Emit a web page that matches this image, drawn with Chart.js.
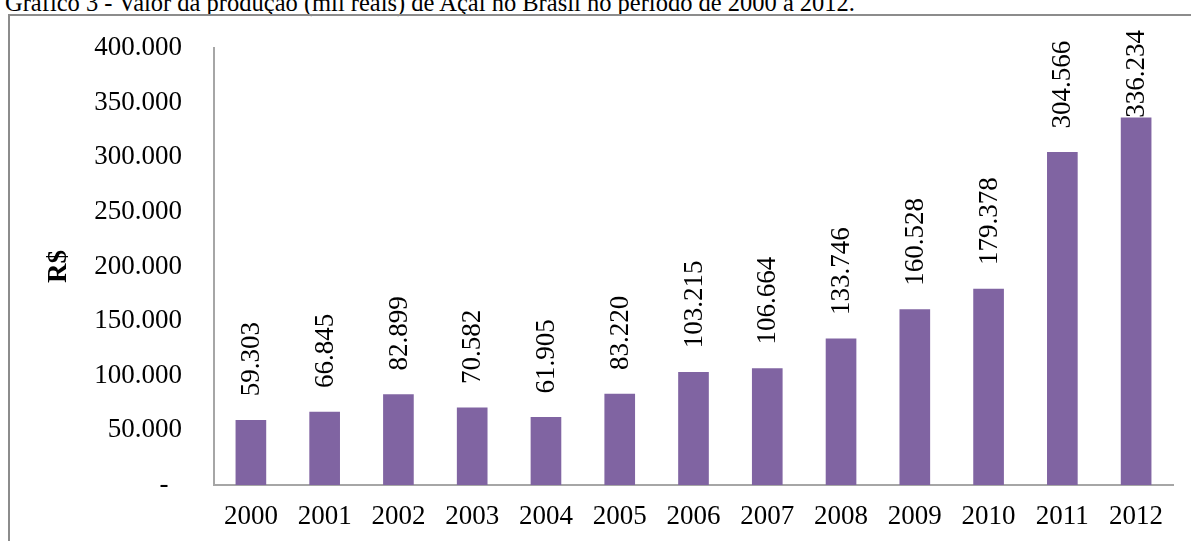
<!DOCTYPE html>
<html>
<head>
<meta charset="utf-8">
<script src="https://cdn.jsdelivr.net/npm/chart.js@4.4.1/dist/chart.umd.min.js"></script>
<style>
  body { margin: 0; background: #fff; overflow: hidden; }
  #titulo {
    position: absolute; left: 5px; top: -9px;
    font: 24.5px/24.5px "Liberation Serif", "Times New Roman", serif;
    color: #000; white-space: nowrap;
  }
  #moldura {
    position: absolute; left: 8px; top: 14px; width: 1300px; height: 600px;
    border-left: 2px solid #8c8c8c; border-top: 2px solid #8c8c8c;
  }
  #box { position: absolute; left: 0; top: 0; width: 1191px; height: 541px; }
</style>
</head>
<body>
<div id="titulo">Gráfico 3 - Valor da produção (mil reais) de Açaí no Brasil no período de 2000 a 2012.</div>
<div id="moldura"></div>
<div id="box"><canvas id="grafico"></canvas></div>
<script>
const anos = ['2000', '2001', '2002', '2003', '2004', '2005', '2006', '2007', '2008', '2009', '2010', '2011', '2012'];
const valores = [59303, 66845, 82899, 70582, 61905, 83220, 103215, 106664, 133746, 160528, 179378, 304566, 336234];
const tituloEixoY = 'R$';

const fonte = '"Liberation Serif", "Times New Roman", serif';

formatarMilhar = (v) => {
    if (v === 0) return '-\u2002';
    return String(v).replace(/\B(?=(\d{3})+(?!\d))/g, '.');
}

// rotulos verticais acima das barras
const rotulosBarras = {
    id: 'rotulosBarras',
    afterDatasetsDraw(chart) {
        const ctx = chart.ctx;
        const meta = chart.getDatasetMeta(0);
        ctx.save();
        ctx.font = '27px ' + fonte;
        ctx.fillStyle = '#000';
        ctx.textAlign = 'left';
        ctx.textBaseline = 'middle';
        meta.data.forEach((bar, i) => {
            const txt = formatarMilhar(valores[i]);
            const w = ctx.measureText(txt).width;
            let base = bar.y - 24;
            if (base - w < 23) base = Math.max(bar.y, 23 + w);
            ctx.save();
            ctx.translate(bar.x + 1, base);
            ctx.rotate(-Math.PI / 2);
            ctx.fillText(txt, 0, 0);
            ctx.restore();
        });
        ctx.restore();
    }
};

new Chart(document.getElementById('grafico').getContext('2d'), {
    type: 'bar',
    data: {
        labels: anos,
        datasets: [{
            label: 'Valor da produção',
            data: valores,
            backgroundColor: '#8064A2',
            barThickness: 30
        }]
    },
    options: {
        responsive: true,
        maintainAspectRatio: false,
        animation: false,
        layout: {
            padding: { top: 45, right: 18, bottom: 0, left: 0 }
        },
        plugins: {
            legend: { display: false },
            tooltip: { enabled: false }
        },
        scales: {
            x: {
                grid: { display: false, drawTicks: false },
                border: { display: true, color: '#a6a6a6', width: 2 },
                ticks: {
                    color: '#000',
                    padding: 16,
                    maxRotation: 0,
                    font: { family: fonte, size: 27 }
                },
                afterFit: (scale) => { scale.height = 56; }
            },
            y: {
                min: 0,
                max: 400000,
                grid: { display: false, drawTicks: false },
                border: { display: true, color: '#a6a6a6', width: 2 },
                ticks: {
                    stepSize: 50000,
                    color: '#000',
                    padding: 32,
                    font: { family: fonte, size: 27 },
                    callback: (v) => formatarMilhar(v)
                },
                title: {
                    display: true,
                    text: tituloEixoY,
                    color: '#000',
                    padding: { top: 43, bottom: 0 },
                    font: { family: fonte, size: 27, weight: 'bold' }
                },
                afterFit: (scale) => { scale.width = 214; }
            }
        }
    },
    plugins: [rotulosBarras]
});
</script>
</body>
</html>
